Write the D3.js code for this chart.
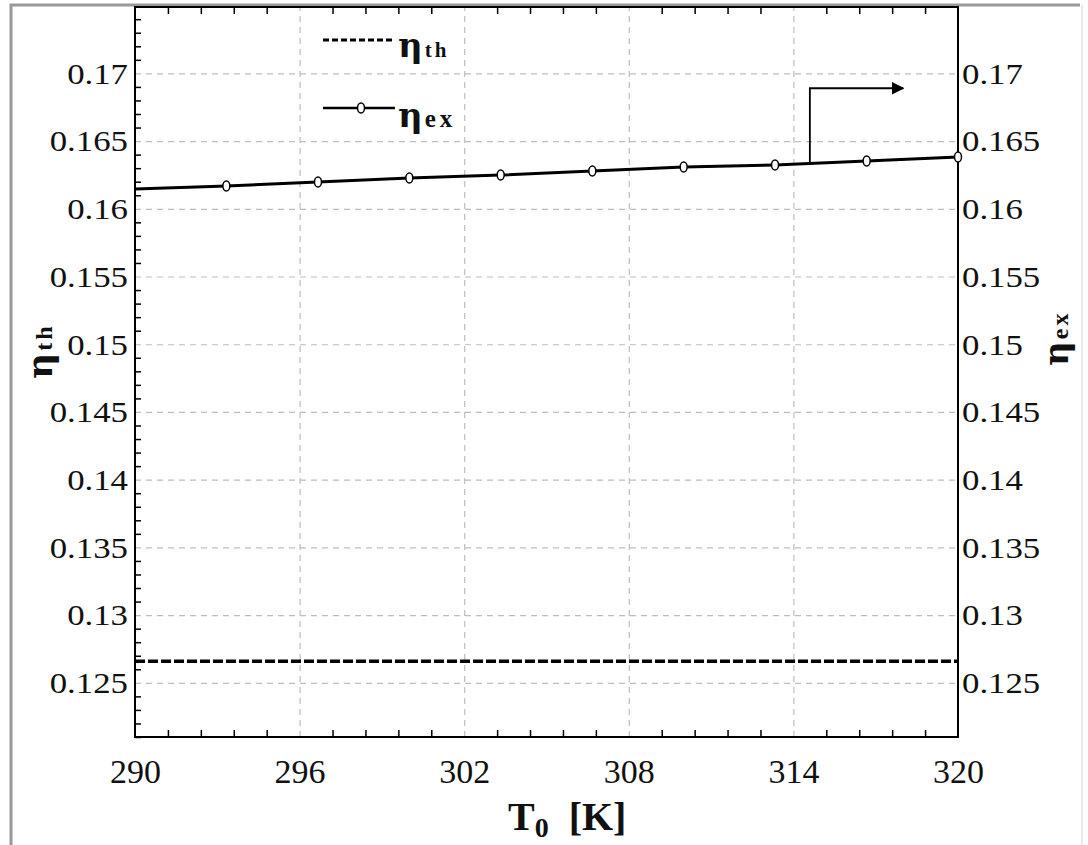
<!DOCTYPE html>
<html>
<head>
<meta charset="utf-8">
<script src="https://cdn.jsdelivr.net/npm/d3@7"></script>
<style>
  body { margin: 0; background: #fff; }
  svg text { font-family: "Liberation Serif", "Times New Roman", serif; fill: #111; }
  .grid line { stroke: #bdbdbd; stroke-dasharray: 6,5; stroke-width: 1.2; }
  .grid path { display: none; }
</style>
</head>
<body>
<svg id="chart" width="1088" height="845"></svg>
<script>
// data
const tempK = [290, 293.33, 296.67, 300, 303.33, 306.67, 310, 313.33, 316.67, 320];
const etaEx = [0.16146, 0.16168, 0.16198, 0.16227, 0.16249, 0.16279, 0.16308, 0.16323, 0.16353, 0.16382];
const etaTh = [0.1266, 0.1266, 0.1266, 0.1266, 0.1266, 0.1266, 0.1266, 0.1266, 0.1266, 0.1266];
const xTicks = [290, 296, 302, 308, 314, 320];
const yTicks = [0.125, 0.13, 0.135, 0.14, 0.145, 0.15, 0.155, 0.16, 0.165, 0.17];
const yTickLabels = ["0.125", "0.13", "0.135", "0.14", "0.145", "0.15", "0.155", "0.16", "0.165", "0.17"];
// arrow pointing to the right axis
const arrowX = 314.6, arrowTop = 0.1689, arrowEnd = 318;

const svg = d3.select('#chart');
const margin = {left: 135, top: 7, right: 130, bottom: 108};
const W = 1088 - margin.left - margin.right;
const H = 845 - margin.top - margin.bottom;

// outer grey frame (left + top strong, right faint)
svg.append('path').attr('d', 'M11,900V5H1080')
  .attr('fill', 'none').attr('stroke', '#999').attr('stroke-width', 3);
svg.append('path').attr('d', 'M1082,5V900')
  .attr('fill', 'none').attr('stroke', '#e2e2e2').attr('stroke-width', 1.5);

const g = svg.append('g').attr('transform', `translate(${margin.left},${margin.top})`);

const x = d3.scaleLinear().domain([290, 320]).range([0, W]);
const y = d3.scaleLinear().domain([0.121, 0.1749]).range([H, 0]);

// minor tick values (not on majors)
const xMinor = d3.range(290, 320.01, 1.2).filter(v => Math.abs((v - 290) / 6 - Math.round((v - 290) / 6)) > 0.01);
const yMinor = d3.range(0.121, 0.1749, 0.001).map(v => +v.toFixed(3))
  .filter(v => !yTicks.some(t => Math.abs(t - v) < 1e-6));

// grid
g.append('g').attr('class', 'grid')
  .call(d3.axisLeft(y).tickValues(yTicks).tickSize(-W).tickFormat(''));
g.append('g').attr('class', 'grid').attr('transform', `translate(0,${H})`)
  .call(d3.axisBottom(x).tickValues(xTicks.slice(1, -1)).tickSize(H).tickFormat(''))
  .selectAll('line').attr('y2', -H);

// minor ticks
g.append('g')
  .call(d3.axisLeft(y).tickValues(yMinor).tickSize(-6).tickFormat(''))
  .call(a => a.select('.domain').remove())
  .selectAll('line').attr('stroke', '#000').attr('stroke-width', 1.5);
g.append('g').attr('transform', `translate(0,${H})`)
  .call(d3.axisBottom(x).tickValues(xMinor).tickSize(-7).tickFormat(''))
  .call(a => a.select('.domain').remove())
  .selectAll('line').attr('stroke', '#000').attr('stroke-width', 1.5);
g.append('g')
  .call(d3.axisTop(x).tickValues(xMinor).tickSize(-7).tickFormat(''))
  .call(a => a.select('.domain').remove())
  .selectAll('line').attr('stroke', '#000').attr('stroke-width', 1.5);

// tick labels
const fmt = d => yTickLabels[yTicks.indexOf(d)];
const yl = g.append('g')
  .call(d3.axisLeft(y).tickValues(yTicks).tickSize(0).tickFormat(fmt))
  .call(a => a.select('.domain').remove());
yl.selectAll('text')
  .attr('font-size', 29)
  .attr('x', -7 / 1.2).attr('dy', '0.34em')
  .attr('transform', 'scale(1.2,1)');

const yr = g.append('g').attr('transform', `translate(${W},0)`)
  .call(d3.axisRight(y).tickValues(yTicks).tickSize(0).tickFormat(fmt))
  .call(a => a.select('.domain').remove());
yr.selectAll('text')
  .attr('font-size', 29)
  .attr('x', 4 / 1.2).attr('dy', '0.34em')
  .attr('transform', 'scale(1.2,1)');

const xl = g.append('g').attr('transform', `translate(0,${H})`)
  .call(d3.axisBottom(x).tickValues(xTicks).tickSize(0).tickFormat(d3.format('d')))
  .call(a => a.select('.domain').remove());
xl.selectAll('text')
  .attr('font-size', 34)
  .attr('y', 22).attr('dy', '0.71em');

// plot frame
g.append('rect').attr('width', W).attr('height', H)
  .attr('fill', 'none').attr('stroke', '#000').attr('stroke-width', 2);

// eta_th dashed line
const line = d3.line().x((d, i) => x(tempK[i])).y(d => y(d));
g.append('path').datum(etaTh)
  .attr('d', line).attr('fill', 'none')
  .attr('stroke', '#000').attr('stroke-width', 3.5).attr('stroke-dasharray', '10,3');

// eta_ex solid line + open markers
g.append('path').datum(etaEx)
  .attr('d', line).attr('fill', 'none')
  .attr('stroke', '#000').attr('stroke-width', 3);
g.selectAll('.mk').data(etaEx.slice(1)).enter().append('ellipse')
  .attr('class', 'mk')
  .attr('cx', (d, i) => x(tempK[i + 1])).attr('cy', d => y(d))
  .attr('rx', 3.5).attr('ry', 5)
  .attr('fill', '#fff').attr('stroke', '#000').attr('stroke-width', 1.5);

// arrow
svg.append('defs').append('marker')
  .attr('id', 'arr').attr('viewBox', '0 0 10 10').attr('refX', 9).attr('refY', 5)
  .attr('markerWidth', 7).attr('markerHeight', 7).attr('orient', 'auto')
  .append('path').attr('d', 'M0,0L10,5L0,10z').attr('fill', '#000');
const exAt = d3.scaleLinear().domain(tempK).range(etaEx)(arrowX);
g.append('path')
  .attr('d', `M${x(arrowX)},${y(exAt)}V${y(arrowTop)}H${x(arrowEnd)}`)
  .attr('fill', 'none').attr('stroke', '#000').attr('stroke-width', 1.8)
  .attr('marker-end', 'url(#arr)');

// legend
const leg = svg.append('g');
leg.append('line').attr('x1', 323).attr('x2', 395).attr('y1', 40).attr('y2', 40)
  .attr('stroke', '#000').attr('stroke-width', 3).attr('stroke-dasharray', '6,3');
leg.append('line').attr('x1', 323).attr('x2', 395).attr('y1', 108).attr('y2', 108)
  .attr('stroke', '#000').attr('stroke-width', 2.5);
leg.append('ellipse').attr('cx', 361).attr('cy', 108).attr('rx', 3.5).attr('ry', 5)
  .attr('fill', '#fff').attr('stroke', '#000').attr('stroke-width', 1.5);

function etaLabel(sel, sub, big, small, spacing) {
  sel.append('tspan').text('η').attr('font-size', big).attr('font-weight', 'bold')
    .style('font-family', '"DejaVu Serif", serif');
  sel.append('tspan').text(sub).attr('font-size', small).attr('font-weight', 'bold')
    .attr('letter-spacing', spacing).attr('dx', 2);
}
etaLabel(leg.append('text').attr('x', 398).attr('y', 57), 'th', 34, 21, 3);
etaLabel(leg.append('text').attr('x', 398).attr('y', 127), 'ex', 34, 25, 4);

// axis titles
etaLabel(svg.append('text').attr('transform', 'translate(52,379) rotate(-90)'), 'th', 36, 24, 3);
etaLabel(svg.append('text').attr('transform', 'translate(1068,366) rotate(-90)'), 'ex', 34, 24, 3);

const xt = svg.append('text').attr('x', 508).attr('y', 830)
  .attr('font-weight', 'bold').attr('font-size', 40);
xt.append('tspan').text('T');
xt.append('tspan').text('0').attr('font-size', 28).attr('dy', 7);
xt.append('tspan').text('[K]').attr('dy', -7).attr('dx', 20);
</script>
</body>
</html>
